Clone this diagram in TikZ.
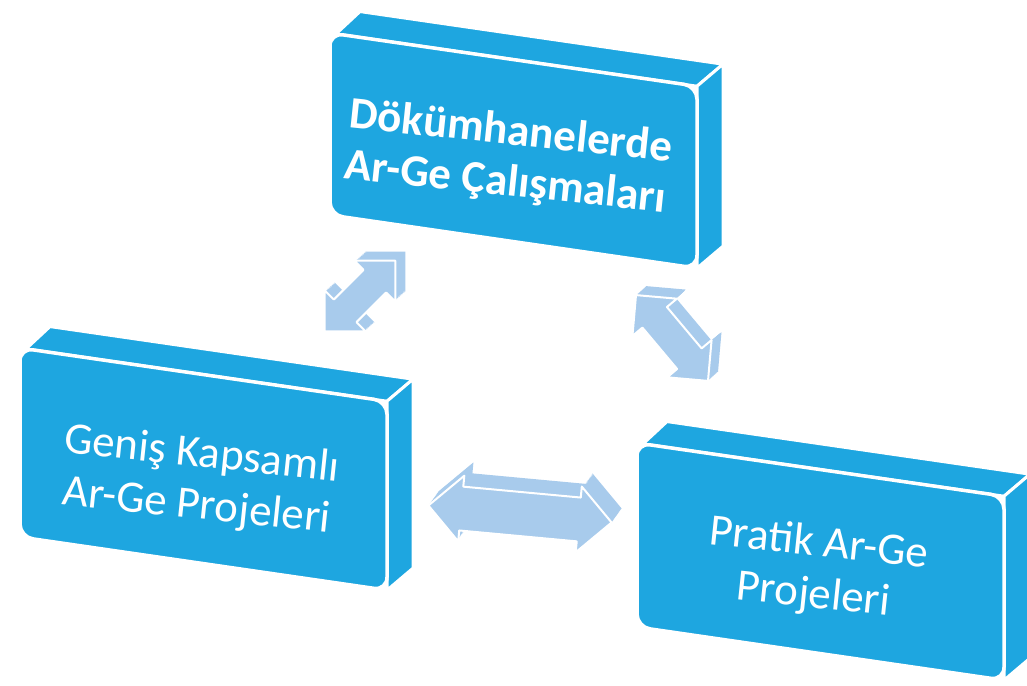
\documentclass[tikz,border=0pt]{standalone}
\usepackage{fontspec}
\setmainfont{Carlito}
\usetikzlibrary{shapes.arrows}
\definecolor{boxblue}{RGB}{30,166,224}
\definecolor{arrblue}{RGB}{168,203,236}
\tikzset{
  boxface/.style={fill=boxblue, draw=white, line width=3pt, line join=round},
  boxfront/.style={boxface, line width=3.5pt, rounded corners=13pt},
  boxtext/.style={text=white, align=center, inner sep=0pt, rotate=-6,
    font=\fontsize{45}{52}\selectfont},
  arrshape/.style n args={4}{double arrow, rotate=#1, minimum height=#2,
    inner xsep=0pt, inner ysep=#3, minimum width=1pt,
    double arrow head extend=#4, line join=round},
}
% #1 x, #2 y (top-left of front face), #3 height, #4 name
\newcommand{\ThreeDBox}[4]{%
  \begin{scope}[shift={(#1,#2)}, yslant=-0.145]
    \path[boxface] (6,0) -- (30,-25.8) -- (393,-25.8) -- (367,0) -- cycle;
    \path[boxface] (367,0) -- (393,-25.8) -- (393,#3-25.8) -- (367,#3) -- cycle;
    \path[boxfront] (0,0) rectangle (367,#3);
    \coordinate (#4) at (183.5,#3/2);
  \end{scope}}
% #1 name, #2 x, #3 y, #4 rotation, #5 length, #6 half shaft, #7 head extend, #8 dx, #9 dy
\newcommand{\ThreeDArrow}[9]{%
  \foreach \k in {0,...,12}{%
    \node[arrshape={#4}{#5}{#6}{#7}, draw=white, line width=4pt]
      at (#2+\k*#8/12, #3+\k*#9/12) {};}
  \foreach \k in {0,...,12}{%
    \node[arrshape={#4}{#5}{#6}{#7}, fill=arrblue]
      at (#2+\k*#8/12, #3+\k*#9/12) {};}
  \node[arrshape={#4}{#5}{#6}{#7}, fill=arrblue, draw=white, line width=2pt]
    (#1) at (#2,#3) {};}
\begin{document}
\begin{tikzpicture}[x=1pt, y=-1pt]
  \useasboundingbox (0,0) rectangle (1027,685);
  % arrows
  \ThreeDArrow{aTL}{360}{296}{45}{100}{15}{13}{10}{-9}
  \ThreeDArrow{aTR}{672}{338}{-50}{112}{15}{13}{10}{-9}
  \ThreeDArrow{aLR}{520}{514}{-5.3}{184}{21}{11}{10}{-14}
  % boxes
  \ThreeDBox{330}{33}{182}{cTop}
  \ThreeDBox{20}{348}{189}{cLeft}
  \ThreeDBox{637}{443}{184}{cRight}
  % texts
  \node[boxtext, font=\bfseries\fontsize{45}{51}\selectfont] (top) at (508,158)
    {Dökümhanelerde\\Ar-Ge Çalışmaları};
  \node[boxtext] (left) at (199,481) {Geniş Kapsamlı\\Ar-Ge Projeleri};
  \node[boxtext] (right) at (816,570) {Pratik Ar-Ge\\Projeleri};
\end{tikzpicture}
\end{document}
